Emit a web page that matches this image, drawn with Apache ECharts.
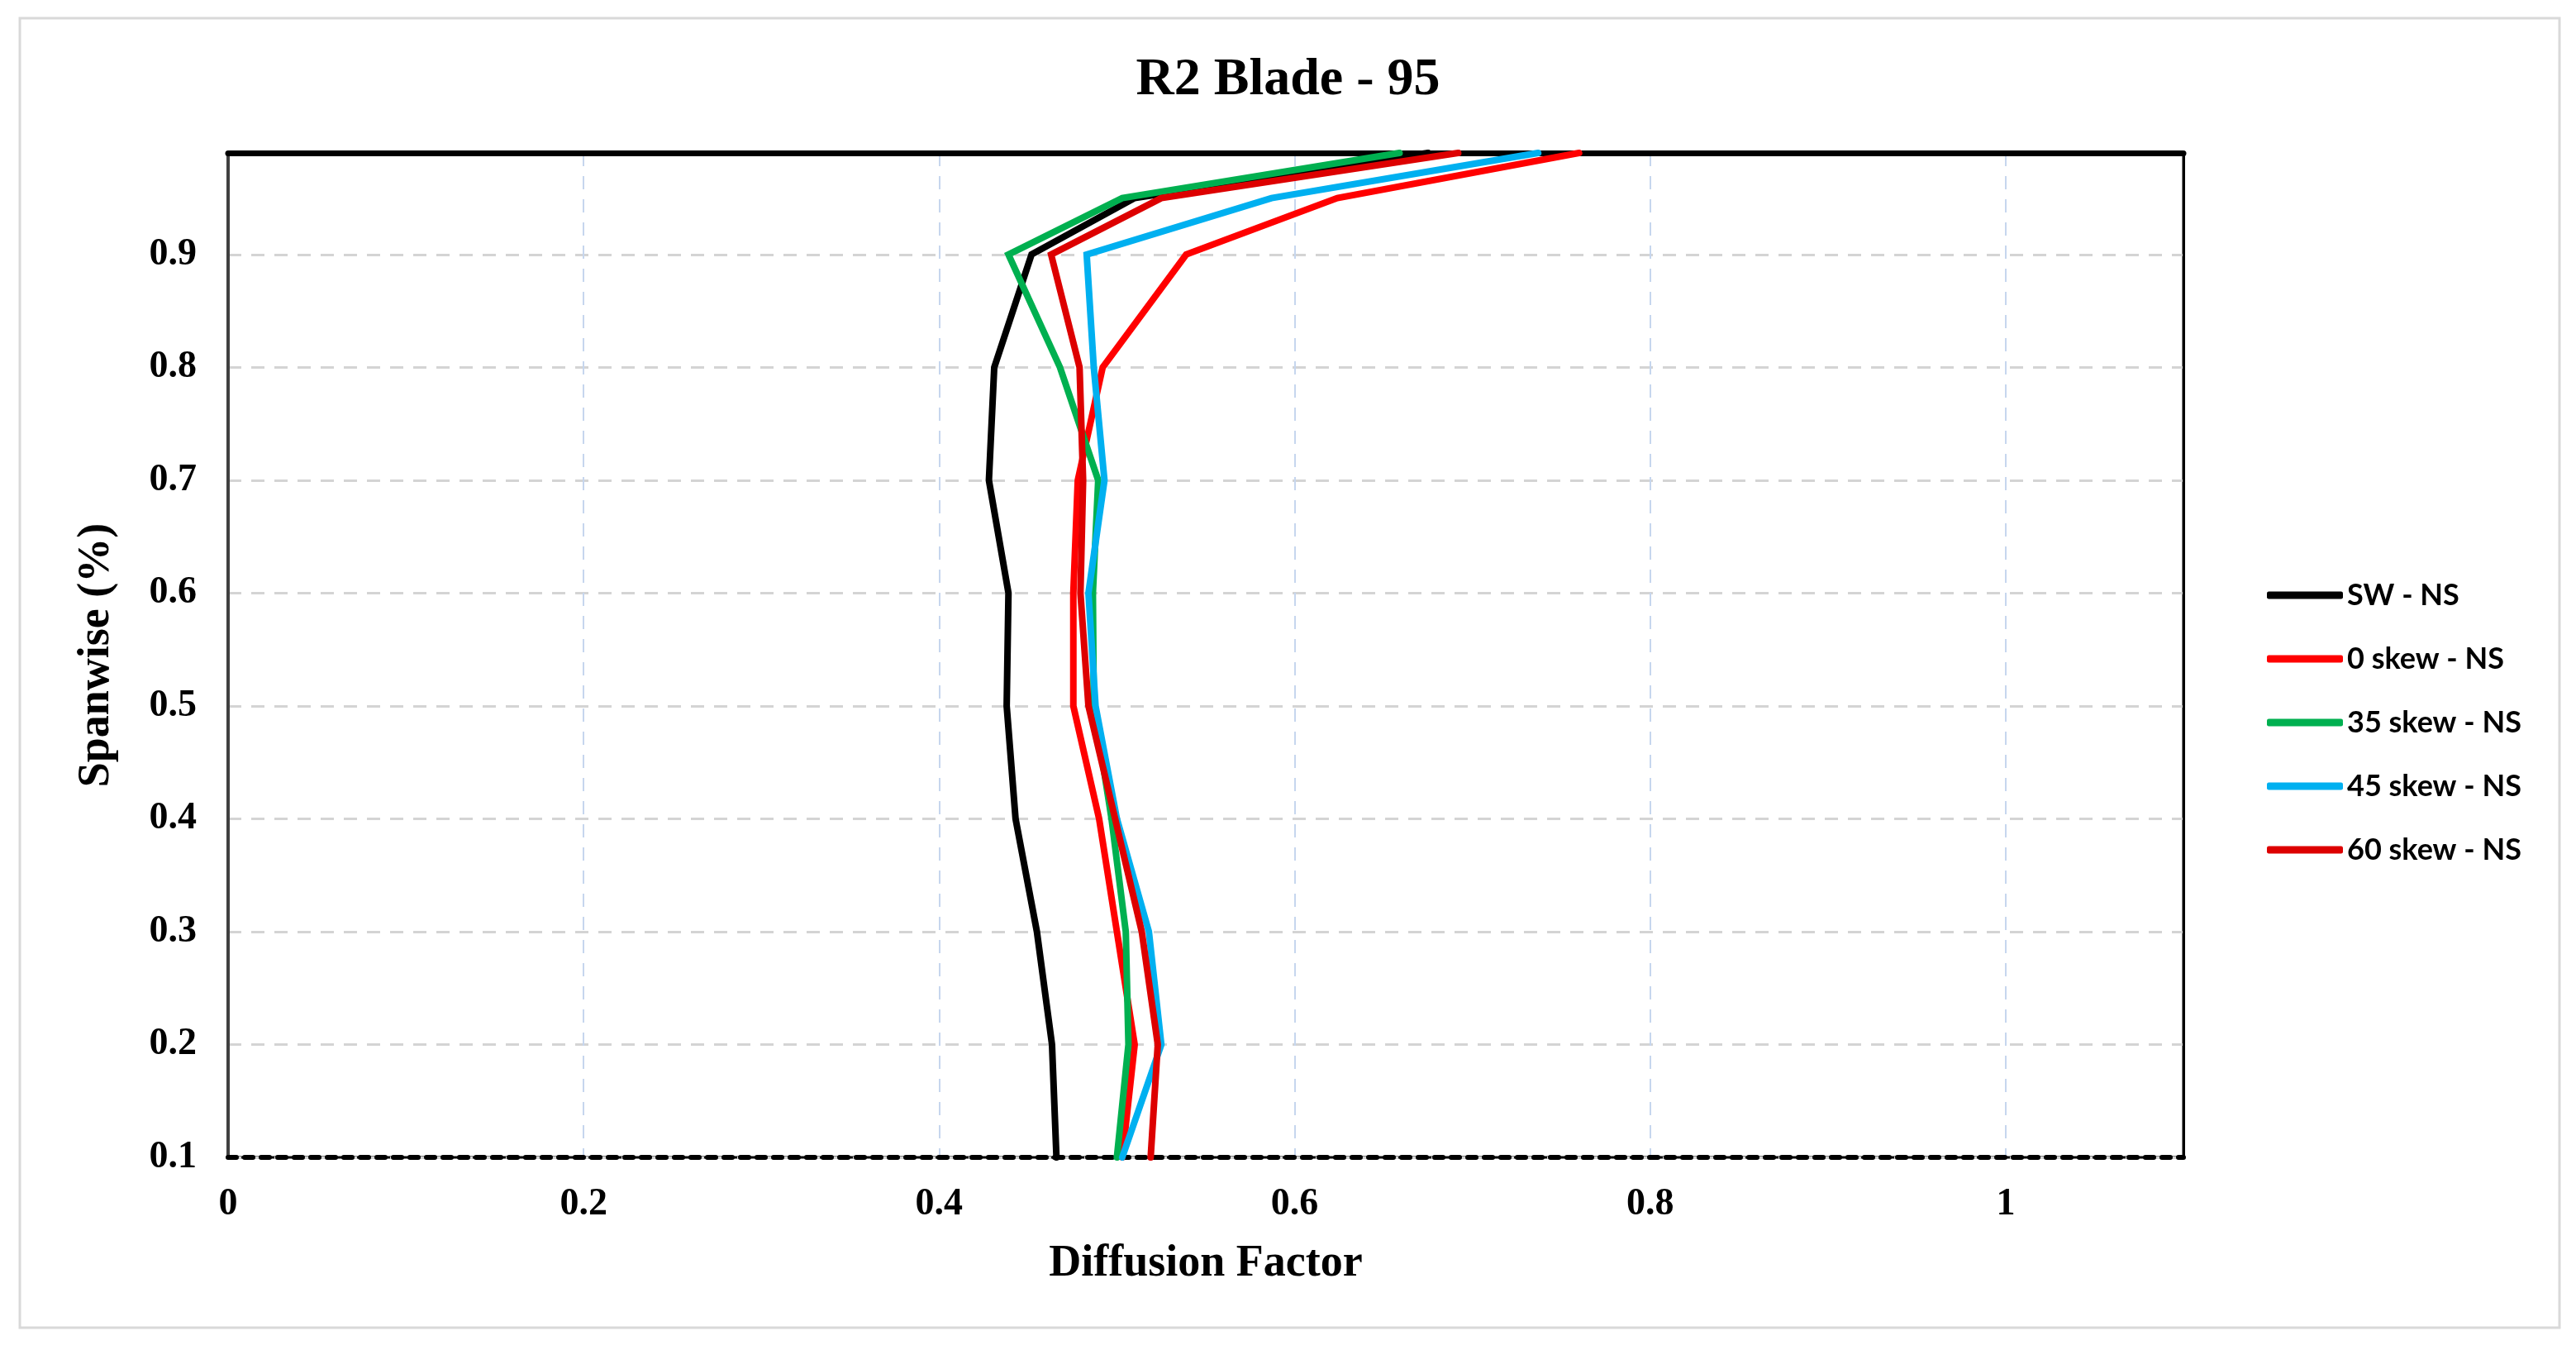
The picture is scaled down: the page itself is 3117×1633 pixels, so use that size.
<!DOCTYPE html>
<html>
<head>
<meta charset="utf-8">
<script src="https://cdn.jsdelivr.net/npm/echarts@6/dist/echarts.min.js"></script>
<style>
  html, body { margin: 0; padding: 0; background: #fff; }
  #chart { width: 3117px; height: 1633px; }
</style>
</head>
<body>
<div id="chart"></div>
<script>
// spanwise stations (y) and diffusion factor per case (x)
const spanwise = [0.1, 0.2, 0.3, 0.4, 0.5, 0.6, 0.7, 0.8, 0.9, 0.95, 0.99];
const swNS     = [0.466, 0.4635, 0.455, 0.443, 0.438, 0.439, 0.428, 0.431, 0.452, 0.510, 0.675];
const skew0NS  = [0.503, 0.510, 0.500, 0.490, 0.4755, 0.4755, 0.478, 0.492, 0.539, 0.624, 0.760];
const skew35NS = [0.500, 0.5065, 0.505, 0.497, 0.487, 0.4865, 0.4895, 0.468, 0.439, 0.503, 0.659];
const skew45NS = [0.503, 0.525, 0.518, 0.500, 0.488, 0.484, 0.493, 0.487, 0.483, 0.587, 0.737];
const skew60NS = [0.519, 0.523, 0.514, 0.499, 0.484, 0.4795, 0.481, 0.479, 0.463, 0.525, 0.692];

const seriesNames = ['SW - NS', '0 skew - NS', '35 skew - NS', '45 skew - NS', '60 skew - NS'];
const seriesValues = [swNS, skew0NS, skew35NS, skew45NS, skew60NS];
const seriesColors = ['#000000', '#ff0000', '#00b050', '#00b0f0', '#dd0000'];

const serif = '"Liberation Serif", "DejaVu Serif", serif';

let chart = echarts.init(document.getElementById('chart'));

const series = seriesNames.map((name, k) => ({
  name: name,
  type: 'line',
  xAxisIndex: 0,
  yAxisIndex: 0,
  z: 6,
  showSymbol: false,
  symbol: 'none',
  lineStyle: { color: seriesColors[k], width: 8, cap: 'round', join: 'miter' },
  itemStyle: { color: seriesColors[k] },
  data: seriesValues[k].map((v, i) => [v, spanwise[i]])
}));

chart.setOption({
  backgroundColor: '#ffffff',
  animation: false,
  title: {
    text: 'R2 Blade - 95',
    left: 'center',
    top: 60,
    textStyle: { fontFamily: serif, fontWeight: 'bold', fontSize: 64, color: '#000' }
  },
  graphic: [{
    type: 'rect',
    shape: { x: 24, y: 22, width: 3073, height: 1584 },
    style: { fill: 'none', stroke: '#d9d9d9', lineWidth: 3 },
    z: -1
  }],
  legend: {
    orient: 'vertical',
    left: 2738,
    top: 695,
    itemWidth: 92,
    itemHeight: 9,
    itemGap: 37,
    icon: 'roundRect',
    data: seriesNames,
    textStyle: { fontFamily: 'Lato, "Liberation Sans", sans-serif', fontWeight: 'bold', fontSize: 36, lineHeight: 40, color: '#000' }
  },
  grid: {
    left: 276, right: 475, top: 185, bottom: 233,
    show: true, borderColor: '#000', borderWidth: 3
  },
  xAxis: [{
    type: 'value',
    min: 0, max: 1.1, interval: 0.2,
    name: 'Diffusion Factor',
    nameLocation: 'middle',
    nameGap: 102,
    nameTextStyle: { fontFamily: serif, fontWeight: 'bold', fontSize: 54, color: '#000' },
    axisLine: { show: true, onZero: false, lineStyle: { color: '#000', width: 6, type: [10, 10] } },
    axisTick: { show: false },
    axisLabel: { showMaxLabel: false, margin: 34, fontFamily: serif, fontWeight: 'bold', fontSize: 46, color: '#000' },
    splitLine: { show: true, lineStyle: { color: '#c6d6ee', width: 2, type: [16, 12] } }
  }, {
    type: 'value',
    position: 'top',
    z: 5,
    min: 0, max: 1.1, interval: 0.2,
    axisLine: { show: true, onZero: false, lineStyle: { color: '#000', width: 7 } },
    axisTick: { show: false },
    axisLabel: { show: false },
    splitLine: { show: false }
  }],
  yAxis: [{
    type: 'value',
    min: 0.1, max: 0.99, interval: 0.1,
    name: 'Spanwise (%)',
    nameLocation: 'middle',
    nameGap: 132,
    nameTextStyle: { fontFamily: serif, fontWeight: 'bold', fontSize: 54, color: '#000' },
    axisLine: { show: true, onZero: false, lineStyle: { color: '#404040', width: 4 } },
    axisTick: { show: false },
    axisLabel: {
      showMaxLabel: false, margin: 38, fontFamily: serif, fontWeight: 'bold', fontSize: 46, color: '#000',
      formatter: (v) => (Math.round(v * 10) / 10).toString()
    },
    splitLine: { show: true, lineStyle: { color: '#d4d4d4', width: 3, type: [16, 12] } }
  }, {
    type: 'value',
    position: 'right',
    z: 5,
    min: 0.1, max: 0.99, interval: 0.1,
    axisLine: { show: true, onZero: false, lineStyle: { color: '#000', width: 3 } },
    axisTick: { show: false },
    axisLabel: { show: false },
    splitLine: { show: false }
  }],
  series: series
});
</script>
</body>
</html>
